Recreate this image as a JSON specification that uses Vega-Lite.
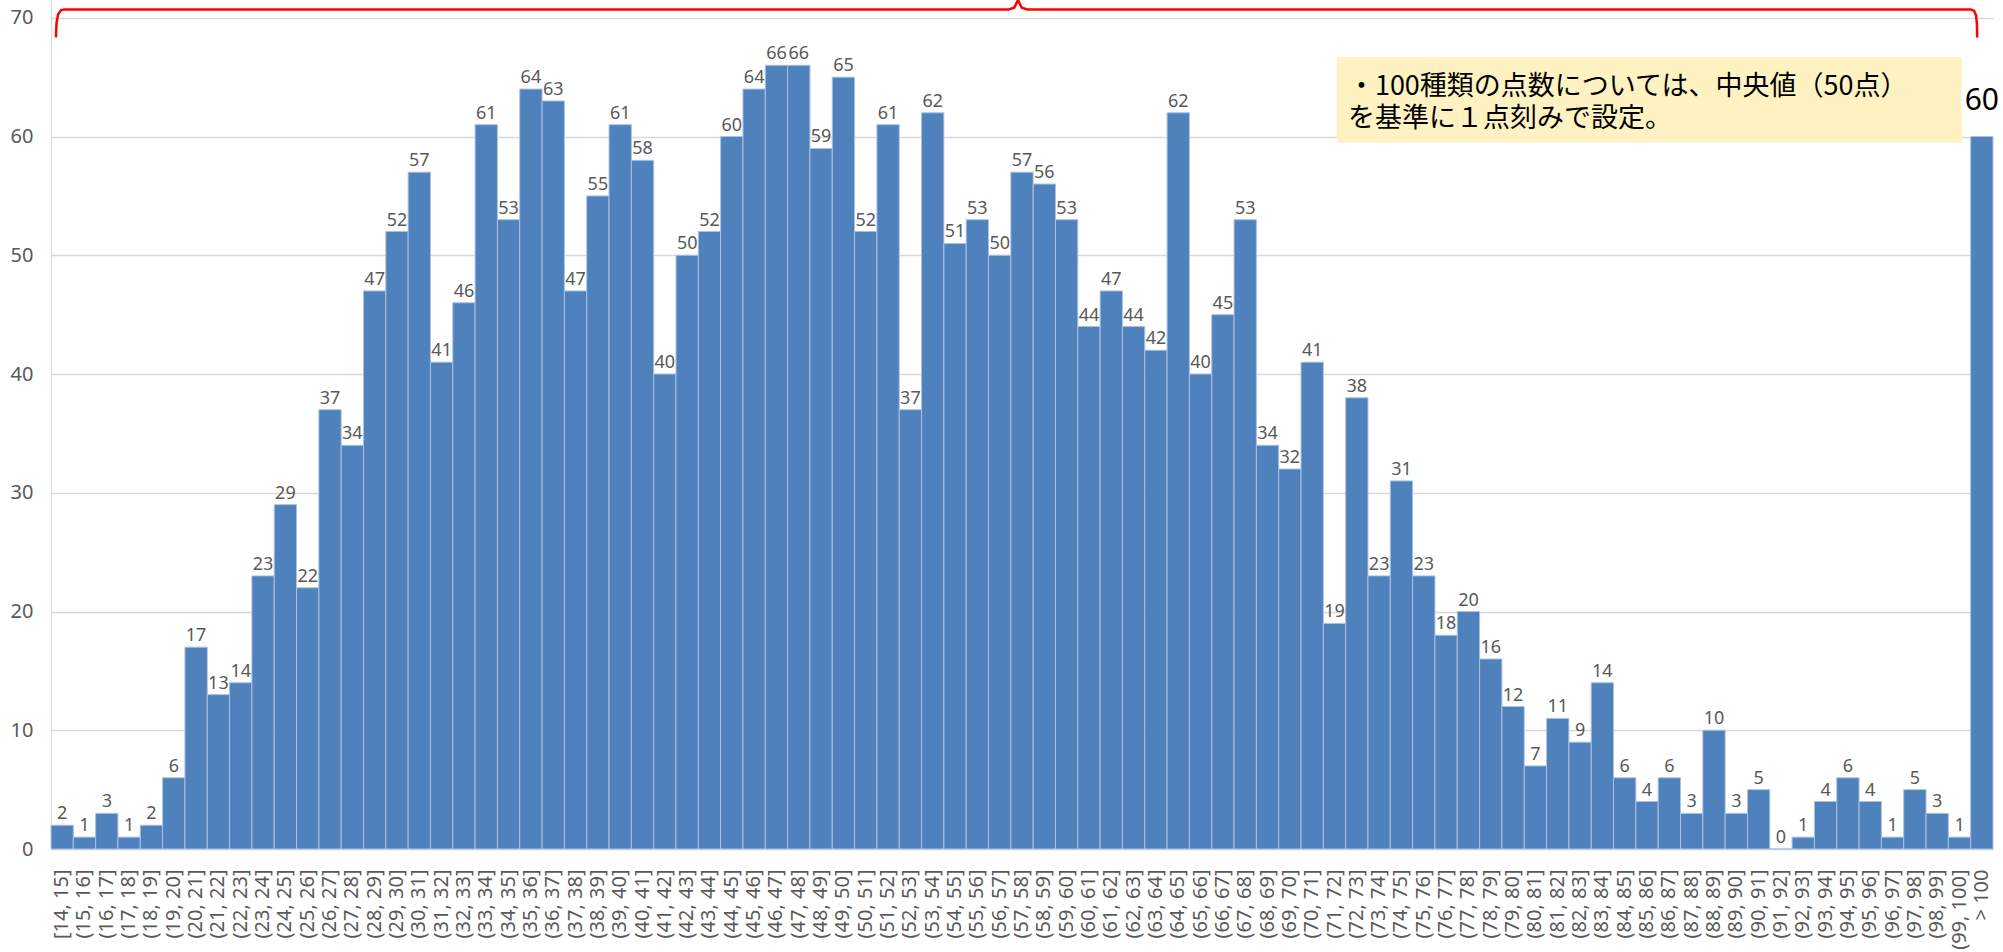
{
  "$schema": "https://vega.github.io/schema/vega-lite/v6.json",
  "width": 1942,
  "height": 849,
  "autosize": {"type": "none"},
  "padding": {"left": 51, "top": 0, "right": 10, "bottom": 103},
  "background": "white",
  "config": {
    "view": {"stroke": null},
    "font": "Noto Sans",
    "axisY": {
      "grid": true,
      "gridColor": "#d9d9d9",
      "gridWidth": 1.3,
      "domainColor": "#d9d9d9",
      "ticks": false,
      "labelFontSize": 20,
      "labelColor": "#595959",
      "labelPadding": 18,
      "title": null
    },
    "axisX": {
      "ticks": false,
      "labelAngle": 270,
      "labelAlign": "right",
      "labelBaseline": "middle",
      "labelFontSize": 20,
      "labelColor": "#595959",
      "labelPadding": 20,
      "labelOverlap": false,
      "domainColor": "#d9d9d9",
      "grid": false,
      "title": null
    }
  },
  "datasets": {
    "bins": [
      {"bin": "[14, 15]", "n": 2}, {"bin": "(15, 16]", "n": 1}, {"bin": "(16, 17]", "n": 3}, {"bin": "(17, 18]", "n": 1},
      {"bin": "(18, 19]", "n": 2}, {"bin": "(19, 20]", "n": 6}, {"bin": "(20, 21]", "n": 17}, {"bin": "(21, 22]", "n": 13},
      {"bin": "(22, 23]", "n": 14}, {"bin": "(23, 24]", "n": 23}, {"bin": "(24, 25]", "n": 29}, {"bin": "(25, 26]", "n": 22},
      {"bin": "(26, 27]", "n": 37}, {"bin": "(27, 28]", "n": 34}, {"bin": "(28, 29]", "n": 47}, {"bin": "(29, 30]", "n": 52},
      {"bin": "(30, 31]", "n": 57}, {"bin": "(31, 32]", "n": 41}, {"bin": "(32, 33]", "n": 46}, {"bin": "(33, 34]", "n": 61},
      {"bin": "(34, 35]", "n": 53}, {"bin": "(35, 36]", "n": 64}, {"bin": "(36, 37]", "n": 63}, {"bin": "(37, 38]", "n": 47},
      {"bin": "(38, 39]", "n": 55}, {"bin": "(39, 40]", "n": 61}, {"bin": "(40, 41]", "n": 58}, {"bin": "(41, 42]", "n": 40},
      {"bin": "(42, 43]", "n": 50}, {"bin": "(43, 44]", "n": 52}, {"bin": "(44, 45]", "n": 60}, {"bin": "(45, 46]", "n": 64},
      {"bin": "(46, 47]", "n": 66}, {"bin": "(47, 48]", "n": 66}, {"bin": "(48, 49]", "n": 59}, {"bin": "(49, 50]", "n": 65},
      {"bin": "(50, 51]", "n": 52}, {"bin": "(51, 52]", "n": 61}, {"bin": "(52, 53]", "n": 37}, {"bin": "(53, 54]", "n": 62},
      {"bin": "(54, 55]", "n": 51}, {"bin": "(55, 56]", "n": 53}, {"bin": "(56, 57]", "n": 50}, {"bin": "(57, 58]", "n": 57},
      {"bin": "(58, 59]", "n": 56}, {"bin": "(59, 60]", "n": 53}, {"bin": "(60, 61]", "n": 44}, {"bin": "(61, 62]", "n": 47},
      {"bin": "(62, 63]", "n": 44}, {"bin": "(63, 64]", "n": 42}, {"bin": "(64, 65]", "n": 62}, {"bin": "(65, 66]", "n": 40},
      {"bin": "(66, 67]", "n": 45}, {"bin": "(67, 68]", "n": 53}, {"bin": "(68, 69]", "n": 34}, {"bin": "(69, 70]", "n": 32},
      {"bin": "(70, 71]", "n": 41}, {"bin": "(71, 72]", "n": 19}, {"bin": "(72, 73]", "n": 38}, {"bin": "(73, 74]", "n": 23},
      {"bin": "(74, 75]", "n": 31}, {"bin": "(75, 76]", "n": 23}, {"bin": "(76, 77]", "n": 18}, {"bin": "(77, 78]", "n": 20},
      {"bin": "(78, 79]", "n": 16}, {"bin": "(79, 80]", "n": 12}, {"bin": "(80, 81]", "n": 7}, {"bin": "(81, 82]", "n": 11},
      {"bin": "(82, 83]", "n": 9}, {"bin": "(83, 84]", "n": 14}, {"bin": "(84, 85]", "n": 6}, {"bin": "(85, 86]", "n": 4},
      {"bin": "(86, 87]", "n": 6}, {"bin": "(87, 88]", "n": 3}, {"bin": "(88, 89]", "n": 10}, {"bin": "(89, 90]", "n": 3},
      {"bin": "(90, 91]", "n": 5}, {"bin": "(91, 92]", "n": 0}, {"bin": "(92, 93]", "n": 1}, {"bin": "(93, 94]", "n": 4},
      {"bin": "(94, 95]", "n": 6}, {"bin": "(95, 96]", "n": 4}, {"bin": "(96, 97]", "n": 1}, {"bin": "(97, 98]", "n": 5},
      {"bin": "(98, 99]", "n": 3}, {"bin": "(99, 100]", "n": 1}, {"bin": "> 100", "n": 60}
    ],
    "brace": [
      {"i": 0, "bx": 0.22, "by": 68.35}, {"i": 1, "bx": 0.25, "by": 69.6}, {"i": 2, "bx": 0.32, "by": 70.3},
      {"i": 3, "bx": 0.45, "by": 70.65}, {"i": 4, "bx": 0.6, "by": 70.7}, {"i": 5, "bx": 42.9, "by": 70.7},
      {"i": 6, "bx": 43.15, "by": 70.85}, {"i": 7, "bx": 43.27, "by": 71.3}, {"i": 8, "bx": 43.32, "by": 71.5},
      {"i": 9, "bx": 43.37, "by": 71.3}, {"i": 10, "bx": 43.49, "by": 70.85}, {"i": 11, "bx": 43.74, "by": 70.7},
      {"i": 12, "bx": 86.0, "by": 70.7}, {"i": 13, "bx": 86.15, "by": 70.6}, {"i": 14, "bx": 86.24, "by": 70.2},
      {"i": 15, "bx": 86.28, "by": 69.5}, {"i": 16, "bx": 86.29, "by": 68.35}
    ],
    "note": [
      {"x1": 57.6, "x2": 85.6, "y1": 59.5, "y2": 66.7}
    ],
    "notetext": [
      {"tx": 58.1, "ty": 64.2, "t": "・100種類の点数については、中央値（50点）"},
      {"tx": 58.1, "ty": 61.45, "t": "を基準に１点刻みで設定。"}
    ]
  },
  "layer": [
    {
      "data": {"name": "bins"},
      "encoding": {
        "x": {"field": "bin", "type": "nominal", "sort": null, "scale": {"paddingInner": 0, "paddingOuter": 0}, "title": null},
        "y": {"field": "n", "type": "quantitative", "scale": {"domain": [0, 71.5], "nice": false}, "title": null,
              "axis": {"values": [0, 10, 20, 30, 40, 50, 60, 70], "title": null}}
      },
      "layer": [
        {"mark": {"type": "bar", "color": "#4F81BD", "stroke": "#a9c2e4", "strokeWidth": 1}},
        {
          "transform": [{"filter": "datum.bin !== '> 100'"}],
          "mark": {"type": "text", "baseline": "alphabetic", "dy": -6, "fontSize": 18, "color": "#595959"},
          "encoding": {"text": {"field": "n", "type": "quantitative"}}
        },
        {
          "transform": [{"filter": "datum.bin === '> 100'"}],
          "mark": {"type": "text", "baseline": "alphabetic", "dy": -27, "fontSize": 30, "color": "#000000"},
          "encoding": {"text": {"field": "n", "type": "quantitative"}}
        }
      ]
    },
    {
      "encoding": {
        "x": {"type": "quantitative", "scale": {"domain": [0, 87], "nice": false, "zero": false}, "axis": null}
      },
      "layer": [
        {
          "data": {"name": "note"},
          "mark": {"type": "rect", "color": "#FFF2C2"},
          "encoding": {
            "x": {"field": "x1", "type": "quantitative", "scale": {"domain": [0, 87], "nice": false, "zero": false}, "axis": null},
            "x2": {"field": "x2"},
            "y": {"field": "y1", "type": "quantitative", "axis": {"values": [0, 10, 20, 30, 40, 50, 60, 70], "title": null}},
            "y2": {"field": "y2"}
          }
        },
        {
          "data": {"name": "notetext"},
          "mark": {"type": "text", "align": "left", "baseline": "middle", "fontSize": 27, "font": "Noto Sans CJK JP", "color": "#000000"},
          "encoding": {
            "x": {"field": "tx", "type": "quantitative", "scale": {"domain": [0, 87], "nice": false, "zero": false}, "axis": null},
            "y": {"field": "ty", "type": "quantitative", "axis": {"values": [0, 10, 20, 30, 40, 50, 60, 70], "title": null}},
            "text": {"field": "t"}
          }
        },
        {
          "data": {"name": "brace"},
          "mark": {"type": "line", "color": "#FF0000", "strokeWidth": 2.5, "interpolate": "linear"},
          "encoding": {
            "x": {"field": "bx", "type": "quantitative", "scale": {"domain": [0, 87], "nice": false, "zero": false}, "axis": null},
            "y": {"field": "by", "type": "quantitative", "axis": {"values": [0, 10, 20, 30, 40, 50, 60, 70], "title": null}},
            "order": {"field": "i", "type": "quantitative"}
          }
        }
      ]
    }
  ],
  "resolve": {"scale": {"x": "independent"}}
}
